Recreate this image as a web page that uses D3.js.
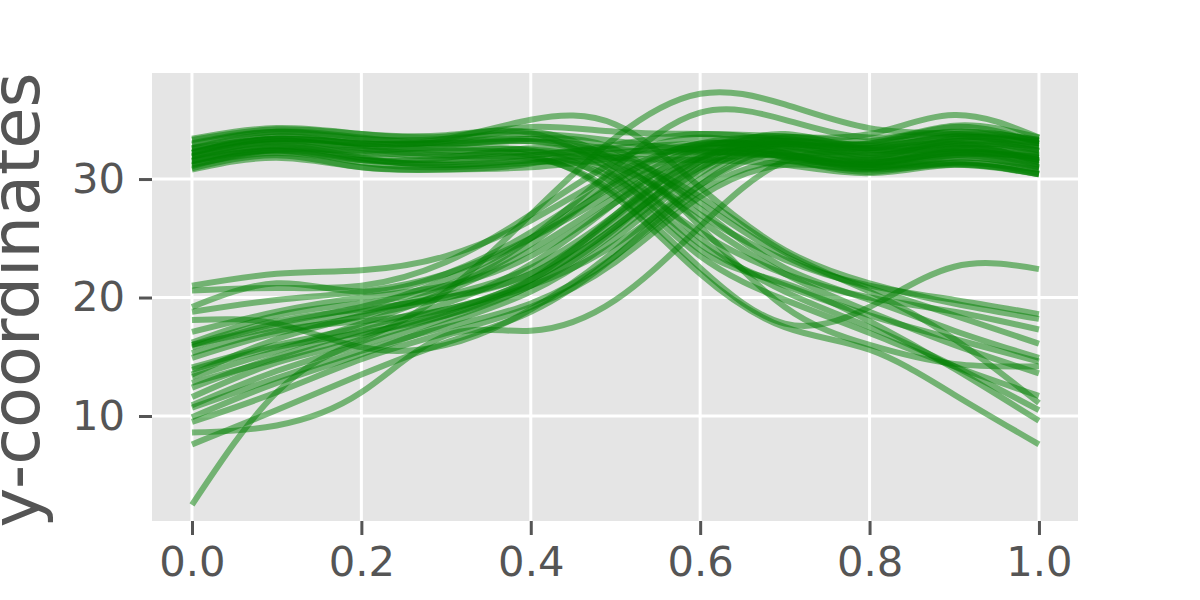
<!DOCTYPE html>
<html>
<head>
<meta charset="utf-8">
<script src="https://cdn.jsdelivr.net/npm/d3@7"></script>
<style>
  body { margin: 0; background: #ffffff; }
  svg { display: block; }
</style>
</head>
<body>
<div id="chart"></div>
<script>
var w = 1200,
	h = 600;

// sample positions along x for every curve
var xSamples = [0, 0.1, 0.2, 0.3, 0.4, 0.5, 0.6, 0.7, 0.8, 0.9, 1.0];

// curves that start high and stay high
var flatLines = [
	[33.4, 34.3, 33.8, 33.6, 34.4, 34.0, 33.8, 33.6, 33.8, 35.4, 33.5],
	[32.6, 33.4, 33.0, 33.1, 33.4, 32.5, 32.3, 32.0, 31.5, 32.2, 31.8],
	[30.8, 31.8, 31.0, 30.8, 31.0, 31.8, 32.6, 32.2, 31.0, 31.3, 30.4],
	[31.9, 33.2, 32.6, 32.0, 32.0, 32.9, 33.8, 33.2, 32.6, 33.6, 32.4],
	[32.2, 33.6, 32.9, 32.6, 32.5, 31.8, 31.6, 31.2, 30.5, 31.2, 30.4],
	[31.1, 32.4, 31.6, 31.4, 32.0, 32.6, 33.0, 32.8, 32.0, 32.7, 31.6],
	[33.0, 34.0, 33.4, 33.4, 33.8, 33.2, 32.4, 31.9, 31.4, 32.3, 31.4],
	[31.5, 32.5, 31.7, 31.2, 31.6, 32.2, 32.9, 33.3, 33.0, 34.4, 33.0]
];

// curves that start high and drop after the middle
var fallingLines = [
	[32.3, 33.4, 33.0, 33.4, 35.0, 34.6, 29.3, 24.0, 21.2, 19.5, 18.2],
	[32.0, 33.0, 32.0, 31.6, 31.8, 28.8, 22.5, 17.8, 19.2, 22.6, 22.4],
	[31.5, 32.4, 31.4, 31.0, 31.4, 31.0, 27.0, 23.2, 21.0, 19.8, 18.6],
	[33.3, 34.2, 33.8, 33.7, 33.9, 30.5, 25.5, 22.0, 20.0, 18.8, 17.3],
	[31.2, 32.2, 31.6, 31.8, 32.6, 31.8, 28.0, 23.5, 20.8, 18.5, 16.1],
	[32.6, 33.8, 33.3, 33.0, 33.4, 32.5, 27.5, 22.5, 19.8, 17.2, 14.9],
	[31.8, 32.8, 31.8, 31.2, 31.5, 30.0, 24.5, 21.0, 18.5, 16.5, 14.6],
	[30.9, 32.0, 31.0, 30.8, 31.3, 31.5, 26.0, 19.2, 16.0, 14.4, 14.2],
	[32.2, 33.4, 33.0, 33.2, 34.0, 31.5, 26.5, 22.0, 18.8, 16.0, 13.6],
	[31.6, 32.7, 32.2, 32.3, 32.4, 29.5, 23.5, 19.8, 17.0, 14.2, 11.7],
	[32.9, 34.0, 33.5, 33.0, 33.2, 32.0, 28.5, 23.8, 20.5, 16.5, 11.1],
	[31.3, 32.5, 32.4, 32.8, 33.2, 31.0, 25.0, 20.5, 17.5, 14.2, 10.5],
	[32.5, 33.3, 32.5, 31.9, 32.3, 30.2, 24.0, 21.2, 18.0, 14.0, 9.6],
	[31.9, 33.0, 32.8, 32.4, 32.0, 28.5, 22.0, 17.5, 15.6, 11.8, 7.6]
];

// curves that start low and climb into the top band
var risingLines = [
	[21.0, 22.0, 22.3, 23.5, 26.5, 30.5, 33.0, 33.4, 32.6, 33.0, 31.4],
	[20.6, 20.8, 21.0, 23.0, 27.0, 31.5, 33.5, 32.2, 31.0, 31.8, 31.0],
	[19.2, 21.2, 20.5, 22.0, 25.5, 30.0, 32.8, 32.9, 33.0, 34.0, 33.2],
	[18.8, 19.8, 20.5, 22.0, 25.0, 29.0, 32.5, 31.8, 30.6, 31.4, 30.5],
	[18.1, 17.8, 15.8, 16.0, 19.0, 24.0, 30.0, 33.0, 32.2, 33.2, 32.6],
	[17.1, 18.8, 20.0, 21.0, 23.5, 28.0, 31.8, 32.4, 31.4, 32.2, 31.2],
	[16.2, 18.5, 19.5, 21.0, 25.0, 31.0, 35.6, 35.0, 33.5, 34.0, 33.3],
	[16.0, 17.5, 18.8, 20.2, 22.5, 27.0, 31.5, 31.6, 30.8, 31.2, 30.4],
	[15.8, 17.8, 19.2, 21.5, 25.0, 29.5, 32.6, 33.6, 32.8, 33.5, 33.0],
	[15.3, 17.2, 18.0, 19.0, 21.5, 26.0, 31.0, 32.0, 31.6, 32.6, 31.8],
	[14.9, 17.0, 18.4, 20.0, 22.0, 26.5, 31.5, 33.2, 32.4, 32.5, 31.6],
	[14.1, 16.0, 17.5, 19.5, 22.8, 28.0, 32.5, 32.6, 31.2, 31.4, 30.8],
	[13.9, 15.8, 17.0, 18.5, 21.0, 25.5, 30.8, 33.5, 33.2, 34.5, 33.5],
	[13.3, 15.5, 17.8, 20.5, 24.0, 28.5, 32.0, 31.9, 31.0, 32.0, 31.9],
	[12.8, 14.8, 16.8, 18.8, 21.5, 26.0, 31.0, 33.0, 32.0, 33.0, 32.4],
	[12.4, 15.0, 17.2, 19.0, 21.0, 24.5, 29.5, 32.3, 31.8, 32.8, 32.8],
	[11.6, 14.5, 16.5, 20.5, 27.0, 33.5, 37.2, 36.3, 34.3, 33.8, 33.2],
	[10.9, 13.8, 16.0, 18.2, 21.0, 25.8, 31.5, 33.8, 32.5, 33.0, 32.0],
	[10.7, 13.2, 15.5, 17.5, 19.5, 23.5, 29.0, 31.5, 31.2, 32.3, 31.5],
	[9.9, 12.8, 15.2, 17.8, 20.5, 25.0, 30.5, 32.8, 31.9, 33.4, 33.0],
	[9.5, 12.0, 14.8, 17.0, 19.2, 23.0, 28.5, 31.2, 30.9, 31.8, 30.9],
	[8.6, 9.2, 12.0, 16.8, 17.2, 19.8, 26.0, 31.5, 32.4, 33.2, 32.3],
	[7.6, 10.5, 13.5, 16.2, 18.8, 23.5, 29.5, 32.6, 31.5, 32.0, 31.0],
	[2.5, 12.0, 16.3, 18.5, 21.5, 27.0, 32.0, 33.0, 32.6, 33.6, 32.8],
	[13.5, 16.5, 18.5, 20.8, 24.5, 29.8, 33.0, 32.1, 31.3, 32.5, 32.1],
	[16.0, 18.0, 19.0, 20.0, 22.0, 26.8, 31.8, 33.2, 32.9, 33.8, 33.3]
];

var xTicks = [0, 0.2, 0.4, 0.6, 0.8, 1.0];
var yTicks = [10, 20, 30];

var plotLeft = 152, plotRight = 1078, plotTop = 73, plotBottom = 521;
var textColor = "#555555";
var fontStack = "'DejaVu Sans', sans-serif";

var x = d3.scaleLinear()
	.domain([-0.0472, 1.0461])
	.range([plotLeft, plotRight]);

var y = d3.scaleLinear()
	.domain([1.14, 38.95])
	.range([plotBottom, plotTop]);

var svg = d3.select("#chart")
	.append("svg")
	.attr("width", w)
	.attr("height", h);

// grey panel
svg.append("rect")
	.attr("x", plotLeft)
	.attr("y", plotTop)
	.attr("width", plotRight - plotLeft)
	.attr("height", plotBottom - plotTop)
	.attr("fill", "#e5e5e5");

// white grid
svg.selectAll(".vgrid")
	.data(xTicks)
	.enter()
	.append("line")
	.attr("class", "vgrid")
	.attr("x1", function(d) { return x(d); })
	.attr("x2", function(d) { return x(d); })
	.attr("y1", plotTop)
	.attr("y2", plotBottom)
	.attr("stroke", "#ffffff")
	.attr("stroke-width", 3);

svg.selectAll(".hgrid")
	.data(yTicks)
	.enter()
	.append("line")
	.attr("class", "hgrid")
	.attr("x1", plotLeft)
	.attr("x2", plotRight)
	.attr("y1", function(d) { return y(d); })
	.attr("y2", function(d) { return y(d); })
	.attr("stroke", "#ffffff")
	.attr("stroke-width", 3);

// all curves go through the same smooth line generator
var allLines = flatLines.concat(fallingLines, risingLines);

var line = d3.line()
	.x(function(d, i) { return x(xSamples[i]); })
	.y(function(d) { return y(d); })
	.curve(d3.curveNatural);

svg.append("g")
	.selectAll("path")
	.data(allLines)
	.enter()
	.append("path")
	.attr("d", line)
	.attr("fill", "none")
	.attr("stroke", "green")
	.attr("stroke-opacity", 0.5)
	.attr("stroke-width", 6);

// axes
var xAxis = d3.axisBottom(x)
	.tickValues(xTicks)
	.tickFormat(d3.format(".1f"))
	.tickSize(14)
	.tickPadding(11);

var yAxis = d3.axisLeft(y)
	.tickValues(yTicks)
	.tickFormat(d3.format("d"))
	.tickSize(13)
	.tickPadding(14);

var gx = svg.append("g")
	.attr("transform", "translate(0," + plotBottom + ")")
	.call(xAxis);

var gy = svg.append("g")
	.attr("transform", "translate(" + plotLeft + ",0)")
	.call(yAxis);

[gx, gy].forEach(function(g) {
	g.select(".domain").remove();
	g.selectAll(".tick line")
		.attr("stroke", textColor)
		.attr("stroke-width", 3);
	g.selectAll(".tick text")
		.attr("fill", textColor)
		.attr("font-family", fontStack)
		.attr("font-size", "41.7px");
});

// big axis label, clipped at the left edge like the original
svg.append("text")
	.attr("transform", "translate(39," + ((plotTop + plotBottom) / 2 + 3) + ") rotate(-90)")
	.style("text-anchor", "middle")
	.attr("font-family", fontStack)
	.attr("font-size", "67px")
	.attr("fill", textColor)
	.text("y-coordinates");
</script>
</body>
</html>
